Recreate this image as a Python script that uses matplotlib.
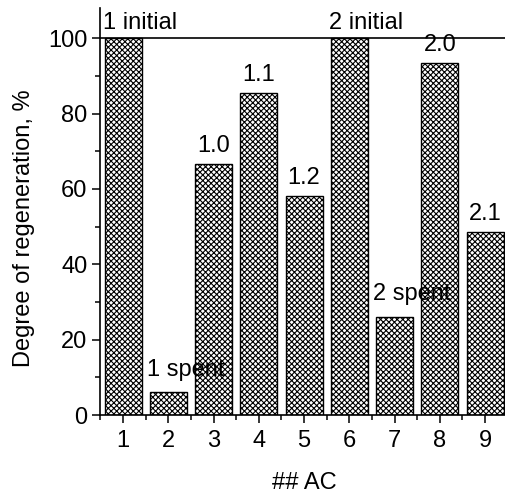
import matplotlib
matplotlib.use("Agg")
import matplotlib.pyplot as plt
from matplotlib.ticker import MultipleLocator

plt.rcParams['font.family'] = ['Liberation Sans', 'DejaVu Sans']
plt.rcParams['hatch.linewidth'] = 0.8

# data
samples = [1, 2, 3, 4, 5, 6, 7, 8, 9]
regeneration = [100, 6, 66.5, 85.5, 58, 100, 26, 93.5, 48.5]
bar_labels = ['1 initial', '1 spent', '1.0', '1.1', '1.2', '2 initial', '2 spent', '2.0', '2.1']

FS = 17

fig = plt.figure(figsize=(5.05, 4.96), dpi=100)
ax = fig.add_axes([0.199, 0.1633, 0.8064, 0.8206])

ax.bar(samples, regeneration, width=0.82, color='white', edgecolor='black',
       linewidth=1.0, hatch='xxxxxx')
ax.axhline(100, color='black', lw=1.2)

for x, v, lab in zip(samples, regeneration, bar_labels):
    if 'initial' in lab:
        ax.text(x - 0.45, v + 4.0, lab, ha='left', va='center', fontsize=FS)
    elif 'spent' in lab:
        ax.text(x - 0.48, v + 6.0, lab, ha='left', va='center', fontsize=FS)
    else:
        ax.text(x, v + 4.8, lab, ha='center', va='center', fontsize=FS)

ax.set_xlim(0.5, 9.5)
ax.set_ylim(0, 108)
ax.set_xticks(samples)
ax.xaxis.set_minor_locator(MultipleLocator(0.5))
ax.yaxis.set_major_locator(MultipleLocator(20))
ax.yaxis.set_minor_locator(MultipleLocator(10))
ax.tick_params(which='major', direction='out', length=6, width=1.1, labelsize=FS)
ax.tick_params(axis='x', which='major', pad=5)
ax.tick_params(which='minor', direction='out', length=3.5, width=1.1)
ax.spines['top'].set_visible(False)
ax.spines['right'].set_visible(False)
for s in ['left', 'bottom']:
    ax.spines[s].set_linewidth(1.2)

ax.set_xlabel('## AC', fontsize=FS, labelpad=14)
ax.set_ylabel('Degree of regeneration, %', fontsize=FS)
ax.yaxis.set_label_coords(-0.16, 0.46)

fig.savefig('out.png', dpi=100)
